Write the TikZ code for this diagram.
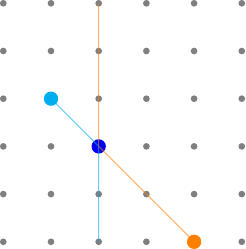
\documentclass[tikz,border=0pt]{standalone}
\definecolor{dotgray}{HTML}{7F7F7F}
\definecolor{pathorange}{HTML}{FF7F00}
\definecolor{pathcyan}{HTML}{00AEEF}
\definecolor{hubblue}{HTML}{0000EE}

\begin{document}
\begin{tikzpicture}[
  griddot/.style={circle, fill=dotgray, inner sep=0pt, minimum size=0.14cm},
  bigdot/.style={circle, inner sep=0pt, minimum size=0.30cm},
  trail/.style={line width=0.6pt, opacity=0.6}
]

% Frame
\useasboundingbox (-0.069,-0.151) rectangle (5.088,5.069);

% ── Grid of points ──
\foreach \i in {0,...,5} {
  \foreach \j in {0,...,5} {
    \node[griddot] (g\i\j) at (\i,\j) {};
  }
}

% ── Marked points ──
\node[bigdot, fill=pathcyan] (start) at (1,3) {};
\node[bigdot, fill=pathorange] (goal) at (4,0) {};
\node[bigdot, fill=hubblue] (hub) at (2,2) {};

% ── Paths through the hub ──
\draw[trail, pathorange] (g25.center) -- (hub.center) -- (goal.center);
\draw[trail, pathcyan] (start.center) -- (hub.center) -- (g20.center);

\end{tikzpicture}
\end{document}
